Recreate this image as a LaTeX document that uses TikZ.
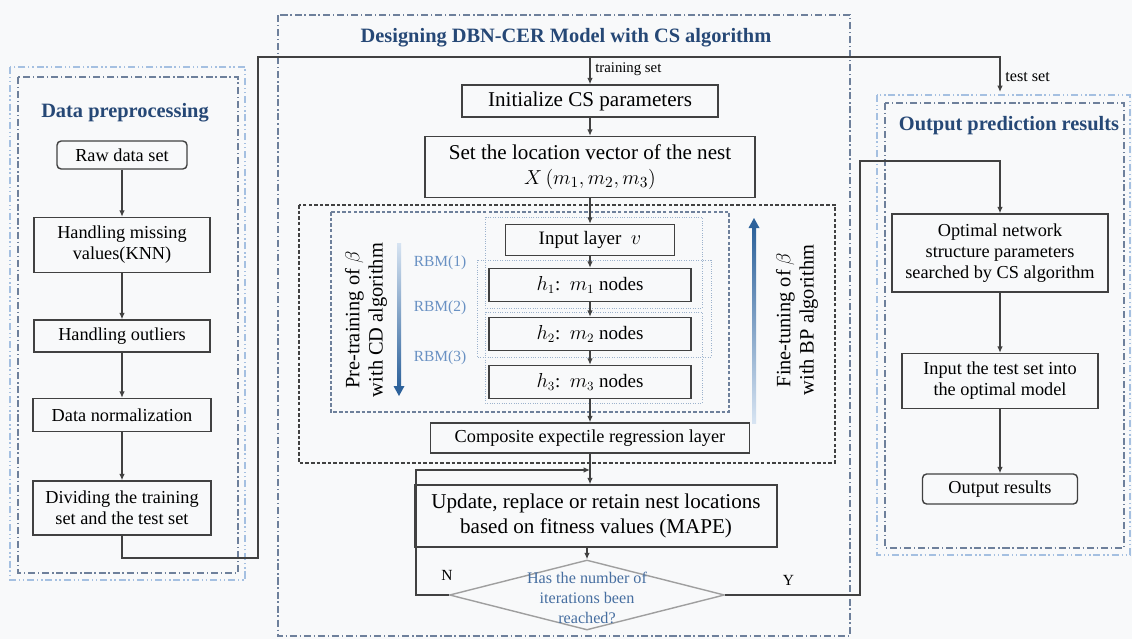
\documentclass[tikz,border=0pt]{standalone}
\usepackage{fontspec}
\setmainfont{Liberation Serif}
\usepackage{amsmath}
\usetikzlibrary{shapes.geometric,arrows.meta,positioning}

\definecolor{headblue}{RGB}{38,72,118}
\definecolor{framegray}{RGB}{110,128,155}
\definecolor{framelight}{RGB}{165,192,225}
\definecolor{rbmblue}{RGB}{105,145,195}
\definecolor{askblue}{RGB}{70,110,160}
\definecolor{linegray}{RGB}{65,65,65}
\definecolor{bgcol}{RGB}{248,249,250}
\definecolor{darkarrow}{RGB}{45,98,155}
\definecolor{lightarrow}{RGB}{215,228,242}

\begin{document}
\begin{tikzpicture}[
    x=0.025cm, y=-0.025cm,
    font=\fontsize{13}{15}\selectfont,
    stepbox/.style={draw=linegray, line width=1pt, align=center, inner sep=2pt},
    layerbox/.style={stepbox, minimum height=0.8cm, font=\fontsize{13.5}{15}\selectfont},
    bigbox/.style={stepbox, font=\fontsize{15}{18}\selectfont},
    decide/.style={diamond, draw=gray!75, line width=1pt, inner sep=0pt, minimum width=6.875cm, minimum height=1.75cm},
    head/.style={text=headblue, font=\bfseries\fontsize{14.5}{17}\selectfont},
    rbm/.style={text=rbmblue, font=\fontsize{11}{13}\selectfont},
    side/.style={rotate=90, align=center, font=\fontsize{14.5}{16.5}\selectfont},
    note/.style={font=\fontsize{10.5}{12}\selectfont},
    yn/.style={font=\fontsize{11}{12}\selectfont},
    frameout/.style={draw=framelight, line width=0.8pt, dash pattern=on 5pt off 2pt on 1pt off 2pt on 1pt off 2pt},
    framein/.style={draw=framegray, line width=0.8pt, dash pattern=on 5pt off 2pt on 1pt off 2pt},
    blackdash/.style={draw=linegray, line width=0.8pt, dash pattern=on 2.5pt off 1.5pt},
    bluedash/.style={draw=framegray, line width=0.8pt, dash pattern=on 2.5pt off 1.5pt},
    rbmframe/.style={draw=framelight!80!gray, line width=0.7pt, densely dotted},
    arrow/.style={-{Latex[length=1.6mm, width=1.4mm]}, draw=linegray, line width=0.9pt},
    line/.style={draw=linegray, line width=0.9pt}
]
\fill[bgcol] (0,0) rectangle (1132,639);
\useasboundingbox (0,0) rectangle (1132,639);

% frames
\draw[frameout] (10,67) rectangle (245,580);
\draw[framein] (18,77) rectangle (238,573);
\draw[framein] (278,15) rectangle (850,636);
\draw[frameout] (877,95) rectangle (1130,555);
\draw[framein] (885,103) rectangle (1124,548);
\draw[blackdash] (299,205) rectangle (835,463);
\draw[bluedash] (331,212) rectangle (729,412);
\draw[rbmframe] (485,217) rectangle (702,308);
\draw[rbmframe] (477,260) rectangle (711,357);
\draw[rbmframe] (485,312) rectangle (702,403);

% headings
\node[head] (prehead) at (125,113) {Data preprocessing};
\node[head] (dbnhead) at (566,38) {Designing DBN-CER Model with CS algorithm};
\node[head] (outhead) at (1009,126) {Output prediction results};

% data preprocessing
\node[stepbox, rounded corners=3pt, minimum width=3.25cm, minimum height=0.7cm] (raw) at (122,155) {Raw data set};
\node[stepbox, minimum width=4.4cm, minimum height=1.375cm] (knn) at (122,245) {Handling missing\\values(KNN)};
\node[stepbox, minimum width=4.4cm, minimum height=0.8cm] (outl) at (122,336) {Handling outliers};
\node[stepbox, minimum width=4.45cm, minimum height=0.825cm] (norm) at (122,415) {Data normalization};
\node[stepbox, minimum width=4.45cm, minimum height=1.35cm] (divide) at (122,508) {Dividing the training\\set and the test set};

% DBN-CER with CS
\node[bigbox, minimum width=6.4cm, minimum height=0.8cm] (init) at (590,101) {Initialize CS parameters};
\node[bigbox, minimum width=8.25cm, minimum height=1.525cm] (nest) at (590,167) {Set the location vector of the nest\\$X\,(m_1, m_2, m_3)$};
\node[layerbox, minimum width=4.225cm, minimum height=0.775cm] (vis) at (590,240) {Input layer \ $v$};
\node[layerbox, minimum width=5.05cm, minimum height=0.825cm] (hid1) at (590,285) {$h_1$:\ \ $m_1$ nodes};
\node[layerbox, minimum width=5.05cm, minimum height=0.825cm] (hid2) at (590,334) {$h_2$:\ \ $m_2$ nodes};
\node[layerbox, minimum width=5.05cm, minimum height=0.825cm] (hid3) at (590,382) {$h_3$:\ \ $m_3$ nodes};
\node[stepbox, minimum width=7.975cm, minimum height=0.75cm] (cer) at (590,438) {Composite expectile regression layer};
\node[bigbox, minimum width=9.05cm, minimum height=1.55cm] (upd) at (596,516) {Update, replace or retain nest locations\\based on fitness values (MAPE)};
\node[decide] (iter) at (587,595) {};
\node[text=askblue, align=center, font=\fontsize{11.5}{14}\selectfont] (itertxt) at (587,598) {Has the number of\\iterations been\\reached?};

\node[rbm] (rbm1) at (440,263) {RBM(1)};
\node[rbm] (rbm2) at (440,308) {RBM(2)};
\node[rbm] (rbm3) at (440,358) {RBM(3)};
\node[side] (pretxt) at (366,320) {Pre-training of $\beta$\\with CD algorithm};
\node[side] (finetxt) at (797,320) {Fine-tuning of $\beta$\\with BP algorithm};

% gradient arrows
\shade[top color=lightarrow, bottom color=darkarrow] (397,243) rectangle (401,387);
\fill[darkarrow] (393.5,386) -- (404.5,386) -- (399,396) -- cycle;
\shade[top color=darkarrow, bottom color=lightarrow] (752,227) rectangle (756,423);
\fill[darkarrow] (748.5,228) -- (759.5,228) -- (754,218) -- cycle;

% output prediction
\node[stepbox, minimum width=5.4cm, minimum height=1.95cm] (opt) at (1000,253) {Optimal network\\structure parameters\\searched by CS algorithm};
\node[stepbox, minimum width=4.9cm, minimum height=1.375cm] (testin) at (1000,381) {Input the test set into\\the optimal model};
\node[stepbox, rounded corners=3pt, minimum width=3.875cm, minimum height=0.75cm] (outres) at (1000,489) {Output results};

% helper points
\coordinate (turnA) at (258,558);
\coordinate (fork) at (590,57);
\coordinate (testend) at (1000,92);
\coordinate (loopin) at (590,470);
\coordinate (nup) at (416,470);
\coordinate (yup) at (860,161);

% connectors
\draw[arrow] (raw) -- (knn);
\draw[arrow] (knn) -- (outl);
\draw[arrow] (outl) -- (norm);
\draw[arrow] (norm) -- (divide);
\draw[line] (divide.south) |- (turnA) |- (fork);
\draw[arrow] (fork) -- node[right, note, pos=0.45] {training set} (init.north);
\draw[arrow] (fork) -| node[right, pos=0.78, font=\fontsize{11.5}{13}\selectfont] {test set} (testend);
\draw[arrow] (init) -- (nest);
\draw[arrow] (nest) -- (vis);
\draw[arrow] (vis) -- (hid1);
\draw[arrow] (hid1) -- (hid2);
\draw[arrow] (hid2) -- (hid3);
\draw[arrow] (hid3) -- (cer);
\draw[arrow] (cer.south) -- (upd.north -| cer.south);
\draw[arrow] (upd.south -| iter.north) -- (iter.north);
\draw[arrow] (iter.west) -| (nup) -- (loopin);
\draw[arrow] (iter.east) -| node[above=3pt, pos=0.235, yn] {Y} (yup) -| (opt.north);
\node[yn] (nlab) at (447,575) {N};
\draw[arrow] (opt) -- (testin);
\draw[arrow] (testin) -- (outres);
\end{tikzpicture}
\end{document}
